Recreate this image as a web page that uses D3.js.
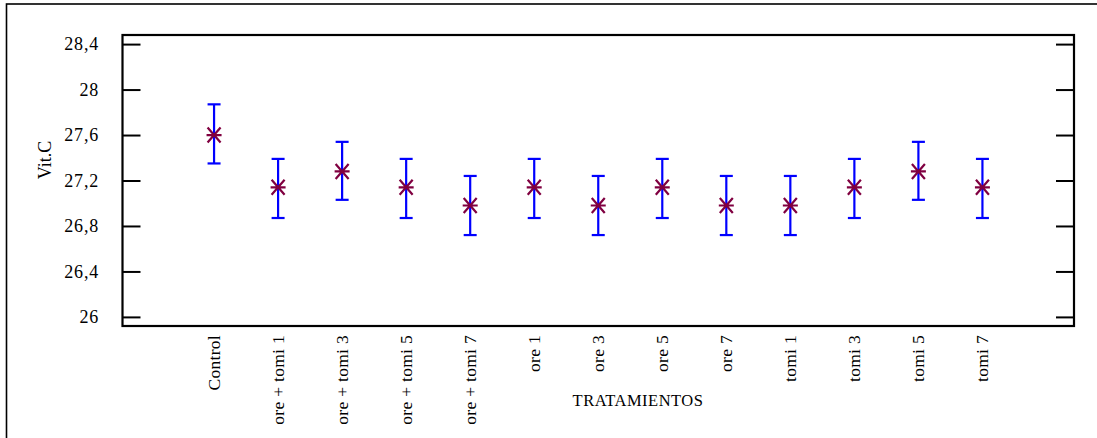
<!DOCTYPE html>
<html><head><meta charset="utf-8">
<script src="https://cdn.jsdelivr.net/npm/d3@7"></script>
<style>
html,body{margin:0;padding:0;background:#fff;}
svg text{font-family:"Liberation Serif",serif;fill:#000;}
</style></head>
<body>
<svg id="chart" width="1097" height="438"></svg>
<script>
const categories = ["Control","ore + tomi 1","ore + tomi 3","ore + tomi 5","ore + tomi 7","ore 1","ore 3","ore 5","ore 7","tomi 1","tomi 3","tomi 5","tomi 7"];
const means = [27.6, 27.14, 27.28, 27.14, 26.98, 27.14, 26.98, 27.14, 26.98, 26.98, 27.14, 27.28, 27.14];
const lower = [27.35, 26.87, 27.03, 26.87, 26.72, 26.87, 26.72, 26.87, 26.72, 26.72, 26.87, 27.03, 26.87];
const upper = [27.87, 27.39, 27.54, 27.39, 27.24, 27.39, 27.24, 27.39, 27.24, 27.24, 27.39, 27.54, 27.39];
const yTicks = [26, 26.4, 26.8, 27.2, 27.6, 28, 28.4];
const yLabel = "Vit.C";
const xLabel = "TRATAMIENTOS";

const svg = d3.select("#chart");
const L = 122.5, R = 1074, T = 35, B = 326;

// outer frame
svg.append("rect").attr("x",6.5).attr("y",4).attr("width",1200).attr("height",600)
  .attr("fill","none").attr("stroke","#000").attr("stroke-width",1.6);

const x = d3.scalePoint().domain(categories).range([L,R]).padding(1.43);
const y = d3.scaleLinear().domain([25.92,28.48]).range([B,T]);
const fmt = v => String(+v.toFixed(1)).replace(".", ",");

// left axis
const yl = svg.append("g").attr("transform",`translate(${L},0)`)
  .call(d3.axisRight(y).tickValues(yTicks).tickSize(18).tickFormat(""));
yl.select(".domain").remove();
yl.selectAll("line").attr("stroke","#000").attr("stroke-width",2);
// right axis
const yr = svg.append("g").attr("transform",`translate(${R},0)`)
  .call(d3.axisLeft(y).tickValues(yTicks).tickSize(18).tickFormat(""));
yr.select(".domain").remove();
yr.selectAll("line").attr("stroke","#000").attr("stroke-width",2);

// tick labels
svg.append("g").selectAll("text").data(yTicks).join("text")
  .attr("x",99).attr("y",d=>y(d)).attr("dy","0.35em")
  .attr("text-anchor","end").style("font-size","18px").style("letter-spacing","0.8px")
  .text(fmt);

// box
svg.append("rect").attr("x",L).attr("y",T).attr("width",R-L).attr("height",B-T)
  .attr("fill","none").attr("stroke","#000").attr("stroke-width",2.2);

// x labels
svg.append("g").selectAll("text").data(categories).join("text")
  .attr("transform",d=>`translate(${x(d)},335) rotate(-90)`)
  .attr("dy","0.33em").attr("text-anchor","end").style("font-size","17.5px")
  .style("letter-spacing","0.3px")
  .text(d=>d);

// axis titles
svg.append("text").attr("transform","translate(45,160) rotate(-90)")
  .attr("dy","0.35em").attr("text-anchor","middle").style("font-size","18px").text(yLabel);
svg.append("text").attr("x",638).attr("y",406).attr("text-anchor","middle")
  .style("font-size","16.5px").style("letter-spacing","0.5px").text(xLabel);

// error bars
const idx = d3.range(categories.length);
const eb = svg.append("g").attr("stroke","#0000ff").attr("stroke-width",2.2);
eb.selectAll("line.v").data(idx).join("line").attr("class","v")
  .attr("x1",i=>x(categories[i])).attr("x2",i=>x(categories[i]))
  .attr("y1",i=>y(lower[i])).attr("y2",i=>y(upper[i]));
eb.selectAll("line.t").data(idx).join("line").attr("class","t")
  .attr("x1",i=>x(categories[i])-6.5).attr("x2",i=>x(categories[i])+6.5)
  .attr("y1",i=>y(upper[i])).attr("y2",i=>y(upper[i]));
eb.selectAll("line.b").data(idx).join("line").attr("class","b")
  .attr("x1",i=>x(categories[i])-6.5).attr("x2",i=>x(categories[i])+6.5)
  .attr("y1",i=>y(lower[i])).attr("y2",i=>y(lower[i]));

// asterisk markers
const star = "M-7.5,0L7.5,0M-6.5,-7.5L6.5,7.5M-6.5,7.5L6.5,-7.5";
svg.append("g").selectAll("path").data(idx).join("path")
  .attr("transform",i=>`translate(${x(categories[i])},${y(means[i])})`)
  .attr("d",star).attr("fill","none").attr("stroke","#800040").attr("stroke-width",2.2);
</script>
</body></html>
